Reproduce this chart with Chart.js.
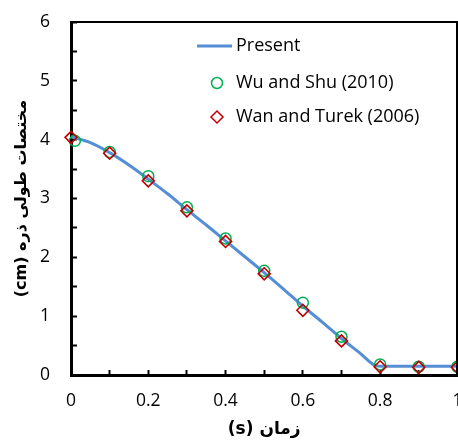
<!DOCTYPE html>
<html lang="fa">
<head>
    <meta charset="UTF-8" />
    <title>مختصات طولی ذره</title>
    <script src="https://cdn.jsdelivr.net/npm/chart.js"></script>
    <style>
        html, body { margin: 0; padding: 0; background: #fff; overflow: hidden; width: 458px; height: 441px; }
        /* کمی پهن‌تر از پنجره تا برچسب «1» مثل تصویر اصلی بریده شود */
        #wrap { width: 465px; height: 441px; position: relative; }
        #frame { position: absolute; border-top: 2px solid #000; border-right: 2px solid #000; box-sizing: border-box; pointer-events: none; }
    </style>
</head>
<body>
<div id="wrap"><canvas id="lengthChart"></canvas><div id="frame"></div></div>
<script>
    // Present (خط)
    const presentTime = [0, 0.05, 0.1, 0.15, 0.2, 0.25, 0.3, 0.35, 0.4, 0.45, 0.5, 0.55, 0.6, 0.65, 0.7, 0.75, 0.785, 0.8, 0.9, 1.0];
    const presentLen  = [4.05, 3.95, 3.78, 3.57, 3.33, 3.08, 2.81, 2.55, 2.28, 2.01, 1.74, 1.46, 1.17, 0.90, 0.62, 0.36, 0.17, 0.15, 0.15, 0.15];

    // Wu and Shu (2010)
    const wuTime = [0.01, 0.1, 0.2, 0.3, 0.4, 0.5, 0.6, 0.7, 0.8, 0.9, 1.0];
    const wuLen  = [3.98, 3.79, 3.38, 2.85, 2.32, 1.77, 1.23, 0.65, 0.18, 0.14, 0.14];

    // Wan and Turek (2006)
    const wanTime = [0, 0.1, 0.2, 0.3, 0.4, 0.5, 0.6, 0.7, 0.8, 0.9, 1.0];
    const wanLen  = [4.04, 3.77, 3.30, 2.79, 2.27, 1.72, 1.10, 0.58, 0.14, 0.13, 0.13];

    const xLabels = ['0', '0.2', '0.4', '0.6', '0.8', '1'];
    const yLabels = ['0', '1', '2', '3', '4', '5', '6'];

    const seriesNames = ['Present', 'Wu and Shu (2010)', 'Wan and Turek (2006)'];

    // عنوان‌ها راست‌به‌چپ (RLE ... PDF)
    const xTitle = '\u202Bزمان (s)\u202C';
    const yTitle = '\u202Bمختصات طولی ذره (cm)\u202C';

    const toPoints = (xs, ys) => xs.map((x, i) => ({ x: x, y: ys[i] }));

    const BLUE = '#558ed5';
    const GREEN = '#00b050';
    const RED = '#c00000';
    const tickFont = { family: "'Open Sans', sans-serif", size: 17.5 };

    // قاب بالا/راست (div روی نمودار) و راهنما داخل نمودار
    const insideLegend = {
        id: 'insideLegend',
        afterDraw(chart) {
            const a = chart.chartArea;
            const f = document.getElementById('frame');
            f.style.left = (a.left - 1) + 'px';
            f.style.top = (a.top - 1) + 'px';
            f.style.width = (a.right - a.left + 2) + 'px';
            f.style.height = (a.bottom - a.top + 1) + 'px';

            const ctx = chart.ctx;
            ctx.save();
            ctx.font = "18px 'Open Sans', sans-serif";
            ctx.fillStyle = '#000';
            ctx.textBaseline = 'middle';
            ctx.textAlign = 'left';
            const textX = 236, rows = [46, 83, 117];

            ctx.strokeStyle = BLUE;
            ctx.lineWidth = 3;
            ctx.beginPath();
            ctx.moveTo(197, rows[0]);
            ctx.lineTo(232, rows[0]);
            ctx.stroke();

            ctx.lineWidth = 1.5;
            ctx.strokeStyle = GREEN;
            ctx.beginPath();
            ctx.arc(217, rows[1], 5.5, 0, Math.PI * 2);
            ctx.stroke();

            ctx.strokeStyle = RED;
            ctx.beginPath();
            ctx.moveTo(217, rows[2] - 6);
            ctx.lineTo(223, rows[2]);
            ctx.lineTo(217, rows[2] + 6);
            ctx.lineTo(211, rows[2]);
            ctx.closePath();
            ctx.stroke();

            seriesNames.forEach((n, i) => ctx.fillText(n, textX, rows[i]));
            ctx.restore();
        }
    };

    new Chart(document.getElementById('lengthChart'), {
        type: 'scatter',
        data: {
            datasets: [{
                label: seriesNames[2],
                data: toPoints(wanTime, wanLen),
                pointStyle: 'rectRot',
                pointRadius: 6,
                borderColor: RED,
                backgroundColor: 'rgba(0,0,0,0)',
                pointBorderWidth: 1.6,
                showLine: false,
                clip: false,
                order: 0
            }, {
                label: seriesNames[1],
                data: toPoints(wuTime, wuLen),
                pointStyle: 'circle',
                pointRadius: 5.5,
                borderColor: GREEN,
                backgroundColor: 'rgba(0,0,0,0)',
                pointBorderWidth: 1.5,
                showLine: false,
                clip: false,
                order: 1
            }, {
                label: seriesNames[0],
                data: toPoints(presentTime, presentLen),
                showLine: true,
                pointRadius: 0,
                borderColor: BLUE,
                borderWidth: 3,
                cubicInterpolationMode: 'monotone',
                clip: false,
                order: 2
            }]
        },
        options: {
            responsive: true,
            maintainAspectRatio: false,
            animation: false,
            layout: { padding: { top: 22, right: 1, left: 0, bottom: 0 } },
            plugins: { legend: { display: false }, tooltip: { enabled: false } },
            scales: {
                x: {
                    type: 'linear', min: 0, max: 1,
                    border: { color: '#000', width: 3 },
                    grid: { drawOnChartArea: false, tickLength: -5, tickWidth: 2, tickColor: '#000' },
                    ticks: {
                        stepSize: 0.1, autoSkip: false, maxRotation: 0, padding: 21,
                        color: '#000', font: tickFont,
                        callback: v => {
                            const k = Math.round(v * 10);
                            return k % 2 === 0 ? xLabels[k / 2] : '';
                        }
                    },
                    title: {
                        display: true, text: xTitle, color: '#000',
                        font: { family: "'DejaVu Sans', sans-serif", size: 17, weight: 'bold' },
                        padding: { top: 4, bottom: 1 }
                    },
                    afterFit: s => { s.height = 66; s.paddingLeft = 0; s.paddingRight = 0; }
                },
                y: {
                    min: 0, max: 6,
                    border: { color: '#000', width: 3 },
                    grid: { drawOnChartArea: false, tickLength: -6, tickWidth: 2, tickColor: '#000' },
                    ticks: {
                        stepSize: 0.5, autoSkip: false, padding: 27,
                        color: '#000', font: tickFont,
                        callback: v => Number.isInteger(v) ? yLabels[v] : ''
                    },
                    title: {
                        display: true, text: yTitle, color: '#000',
                        font: { family: "'DejaVu Sans', sans-serif", size: 16, weight: 'bold' },
                        padding: { top: 12, bottom: 0 }
                    },
                    afterFit: s => { s.width = 71; s.paddingTop = 0; s.paddingBottom = 0; }
                }
            }
        },
        plugins: [insideLegend]
    });
</script>
</body>
</html>
